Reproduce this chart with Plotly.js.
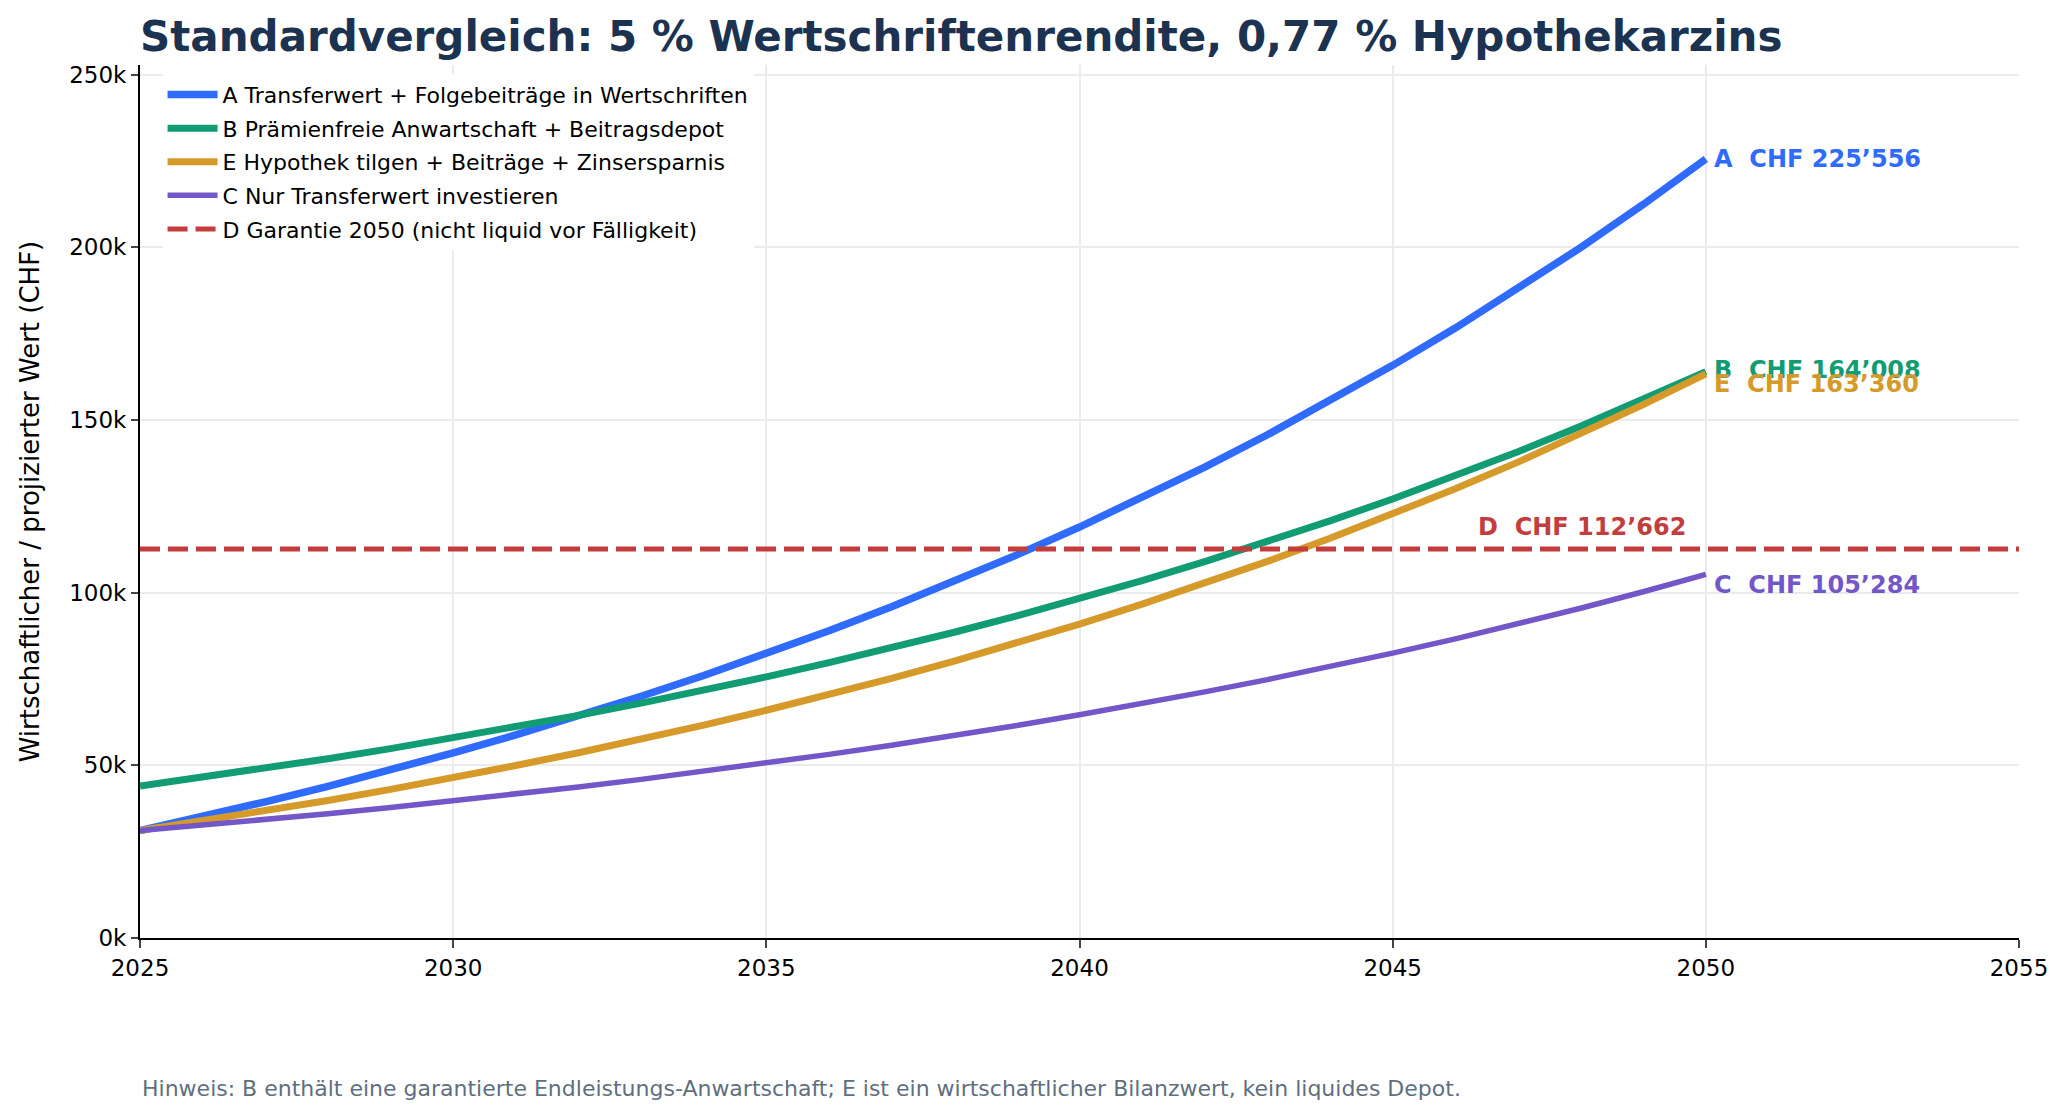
<!DOCTYPE html>
<html>
<head>
<meta charset="utf-8">
<script src="https://cdn.plot.ly/plotly-3.0.1.min.js"></script>
<style>
  html, body { margin: 0; padding: 0; background: #fff; }
  #chart { width: 2070px; height: 1119px; }
</style>
</head>
<body>
<div id="chart"></div>
<script>
// Jahre und Werte (CHF)
var years = [2025, 2026, 2027, 2028, 2029, 2030, 2031, 2032, 2033, 2034, 2035, 2036, 2037,
             2038, 2039, 2040, 2041, 2042, 2043, 2044, 2045, 2046, 2047, 2048, 2049, 2050];

var valuesA = [31091, 35166, 39444, 43936, 48653, 53606, 58806, 64266, 70000, 76019, 82340, 88977, 95946,
               103264, 110947, 119014, 127485, 136379, 145718, 155523, 165820, 176631, 187982, 199902, 212416, 225556];

var valuesB = [44000, 46515, 49155, 51927, 54838, 57894, 61103, 64473, 68011, 71726, 75627, 79723, 84024,
               88539, 93281, 98259, 103487, 108976, 114739, 120791, 127144, 133816, 140821, 148177, 155900, 164008];

var valuesE = [31091, 33863, 36773, 39828, 43036, 46405, 49943, 53656, 57557, 61651, 65951, 70465, 75205,
               80183, 85409, 90896, 96658, 102707, 109060, 115729, 122734, 130087, 137808, 145916, 154428, 163360];

var valuesC = [31091, 32646, 34278, 35992, 37791, 39681, 41665, 43748, 45936, 48232, 50644, 53176, 55835,
               58627, 61558, 64636, 67868, 71261, 74824, 78565, 82494, 86618, 90949, 95497, 100271, 105284];

var guaranteeD = 112662;
var guaranteeYears = [2025, 2055];

var names = [
  'A Transferwert + Folgebeiträge in Wertschriften',
  'B Prämienfreie Anwartschaft + Beitragsdepot',
  'E Hypothek tilgen + Beiträge + Zinsersparnis',
  'C Nur Transferwert investieren',
  'D Garantie 2050 (nicht liquid vor Fälligkeit)'
];

var xTicks = [2025, 2030, 2035, 2040, 2045, 2050, 2055];
var yTicks = [0, 50000, 100000, 150000, 200000, 250000];
var yTickText = ['0k', '50k', '100k', '150k', '200k', '250k'];

var colA = '#2f6bff', colB = '#119c74', colE = '#d69a2a', colC = '#7357c9', colD = '#c33d3d';
var FONT = 'DejaVu Sans, sans-serif';

function chf(v) {
  return 'CHF ' + String(Math.round(v)).replace(/\B(?=(\d{3})+(?!\d))/g, '\u2019');
}
function last(a) { return a[a.length - 1]; }

var data = [
  {x: years, y: valuesA, name: names[0], type: 'scatter', mode: 'lines', legendgroup: 'a',
   line: {color: colA, width: 7.5}},
  {x: years, y: valuesB, name: names[1], type: 'scatter', mode: 'lines', legendgroup: 'b',
   line: {color: colB, width: 7}},
  {x: years, y: valuesE, name: names[2], type: 'scatter', mode: 'lines', legendgroup: 'e',
   line: {color: colE, width: 7}},
  {x: years, y: valuesC, name: names[3], type: 'scatter', mode: 'lines', legendgroup: 'c',
   line: {color: colC, width: 5.5}},
  {x: guaranteeYears, y: [guaranteeD, guaranteeD], name: names[4], type: 'scatter', mode: 'lines', legendgroup: 'd',
   line: {color: colD, width: 5, dash: '20px,8px'}}
];

function endLabel(letter, series, color, yshift) {
  return {x: 2050, y: last(series), xref: 'x', yref: 'y', text: letter + '\u00a0 ' + chf(last(series)),
          showarrow: false, xanchor: 'left', yanchor: 'middle', xshift: 6, yshift: yshift,
          font: {family: FONT, size: 24, color: color, weight: 'bold'}};
}

var annotations = [
  endLabel('A', valuesA, colA, 0),
  endLabel('B', valuesB, colB, 2),
  endLabel('E', valuesE, colE, -10),
  endLabel('C', valuesC, colC, -11),
  {x: 2050, y: guaranteeD, xref: 'x', yref: 'y', text: 'D\u00a0 ' + chf(guaranteeD),
   showarrow: false, xanchor: 'right', yanchor: 'middle', xshift: -18, yshift: 22,
   font: {family: FONT, size: 24, color: colD, weight: 'bold'}},
  {x: 0, y: -0.172, xref: 'paper', yref: 'paper', xanchor: 'left', yanchor: 'middle', showarrow: false,
   text: 'Hinweis: B enthält eine garantierte Endleistungs-Anwartschaft; E ist ein wirtschaftlicher Bilanzwert, kein liquides Depot.',
   font: {family: FONT, size: 22, color: '#5f6f80'}}
];

var layout = {
  width: 2070, height: 1119,
  margin: {l: 140, r: 51, t: 65, b: 181},
  paper_bgcolor: '#fff', plot_bgcolor: '#fff',
  font: {family: FONT, size: 23, color: '#000'},
  title: {text: 'Standardvergleich: 5 % Wertschriftenrendite, 0,77 % Hypothekarzins',
          x: 0, xref: 'paper', xanchor: 'left', y: 0.968, yref: 'container', yanchor: 'middle',
          font: {family: FONT, size: 42, color: '#1b3350', weight: 'bold'}},
  xaxis: {range: [2025, 2055], tickvals: xTicks, ticks: 'outside', ticklen: 8, tickwidth: 1.5,
          showline: true, linecolor: '#000', linewidth: 2, showgrid: true, gridcolor: '#ebebeb',
          gridwidth: 1.5, zeroline: false, tickfont: {size: 23}},
  yaxis: {range: [0, 252800], tickvals: yTicks, ticktext: yTickText, ticks: 'outside', ticklen: 7,
          tickwidth: 1.5, showline: true, linecolor: '#000', linewidth: 2, showgrid: true,
          gridcolor: '#ebebeb', gridwidth: 1.5, zeroline: false, tickfont: {size: 23},
          title: {text: 'Wirtschaftlicher / projizierter Wert (CHF)', font: {size: 26}, standoff: 22}},
  showlegend: true,
  legend: {x: 0.012, y: 0.99, xanchor: 'left', yanchor: 'top', bgcolor: '#fff', borderwidth: 0,
           font: {family: FONT, size: 22, color: '#000'}, tracegroupgap: 2, itemwidth: 50},
  annotations: annotations
};

Plotly.newPlot('chart', data, layout, {displayModeBar: false, responsive: false});
</script>
</body>
</html>
